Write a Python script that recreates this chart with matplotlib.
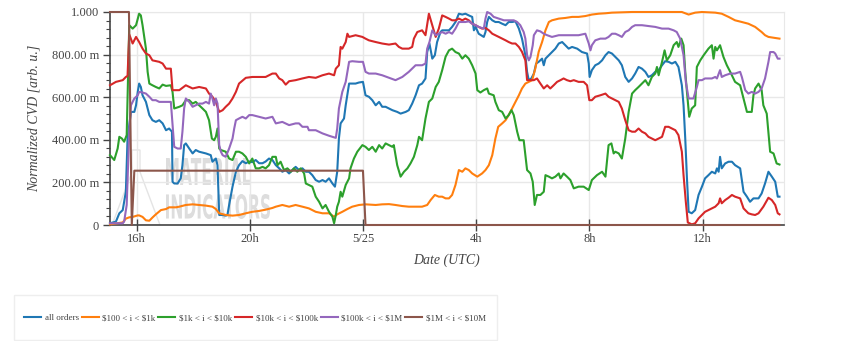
import matplotlib
matplotlib.use('Agg')
import matplotlib.pyplot as plt
from matplotlib.patches import PathPatch, Rectangle, Polygon
from matplotlib.textpath import TextPath
from matplotlib.transforms import Affine2D
from matplotlib.font_manager import FontProperties

plt.rcParams['font.family'] = ['Liberation Serif', 'DejaVu Serif']

# time axis: hours since 5/24 00:00 (UTC)
x_ticks = [16, 20, 24, 28, 32, 36]
x_tick_labels = ['16h', '20h', '5/25', '4h', '8h', '12h']
y_ticks = [0, 0.2, 0.4, 0.6, 0.8, 1.0]
y_tick_labels = ['0', '200.00 m', '400.00 m', '600.00 m', '800.00 m', '1.000']

series_names = ['all orders', r'\$100 < i < \$1k', r'\$1k < i < \$10k',
                r'\$10k < i < \$100k', r'\$100k < i < \$1M', r'\$1M < i < \$10M']
colors = ['#1f77b4', '#ff7f0e', '#2ca02c', '#d62728', '#9467bd', '#8c564b']

# all orders
blue_t = [15.06, 15.27, 15.39, 15.51, 15.56, 15.62, 15.68, 15.80, 15.92, 15.98, 16.04, 16.09, 16.15, 16.21,
          16.33, 16.45, 16.56, 16.68, 16.80, 16.92, 17.04, 17.15, 17.25, 17.27, 17.33, 17.45, 17.56, 17.62,
          17.68, 17.74, 17.86, 17.98, 18.09, 18.21, 18.45, 18.62, 18.68, 18.80, 18.86, 18.92, 19.04, 19.15,
          19.21, 19.27, 19.39, 19.51, 19.62, 19.74, 19.86, 19.98, 20.09, 20.21, 20.33, 20.45, 20.56, 20.68,
          20.80, 20.92, 21.04, 21.15, 21.27, 21.39, 21.51, 21.62, 21.74, 21.86, 21.98, 22.09, 22.21, 22.33,
          22.45, 22.57, 22.68, 22.80, 22.92, 23.01, 23.09, 23.15, 23.21, 23.33, 23.39, 23.51, 23.62, 23.74,
          23.86, 24.00, 24.09, 24.21, 24.33, 24.45, 24.57, 24.68, 24.80, 24.92, 25.04, 25.21, 25.33, 25.51,
          25.62, 25.74, 25.86, 25.98, 26.09, 26.21, 26.27, 26.35, 26.45, 26.54, 26.62, 26.74, 26.80, 26.92,
          27.04, 27.15, 27.27, 27.39, 27.51, 27.62, 27.74, 27.86, 27.92, 27.98, 28.09, 28.27, 28.33, 28.39,
          28.45, 28.57, 28.68, 28.80, 28.92, 29.04, 29.15, 29.27, 29.39, 29.51, 29.62, 29.74, 29.80, 29.86,
          29.95, 30.04, 30.12, 30.21, 30.33, 30.39, 30.45, 30.57, 30.68, 30.80, 30.92, 31.04, 31.15, 31.27,
          31.39, 31.57, 31.74, 31.92, 31.98, 32.01, 32.09, 32.21, 32.33, 32.45, 32.57, 32.68, 32.80, 32.92,
          33.04, 33.15, 33.27, 33.39, 33.51, 33.62, 33.74, 33.86, 33.98, 34.09, 34.21, 34.33, 34.45, 34.57,
          34.68, 34.80, 34.92, 35.04, 35.15, 35.27, 35.33, 35.39, 35.45, 35.51, 35.62, 35.74, 35.86, 35.98,
          36.09, 36.21, 36.33, 36.45, 36.51, 36.57, 36.62, 36.68, 36.80, 36.92, 37.04, 37.15, 37.33, 37.45,
          37.57, 37.68, 37.80, 37.98, 38.09, 38.21, 38.33, 38.45, 38.57, 38.66, 38.72]
blue_v = [0.008, 0.016, 0.055, 0.070, 0.109, 0.156, 0.406, 0.531, 0.531, 0.562, 0.625, 0.664, 0.648, 0.609,
          0.578, 0.516, 0.492, 0.484, 0.492, 0.477, 0.445, 0.453, 0.438, 0.203, 0.195, 0.195, 0.219, 0.281,
          0.375, 0.383, 0.359, 0.336, 0.352, 0.344, 0.336, 0.328, 0.297, 0.312, 0.281, 0.047, 0.047, 0.044,
          0.047, 0.094, 0.180, 0.250, 0.281, 0.300, 0.290, 0.298, 0.295, 0.305, 0.290, 0.290, 0.298, 0.312,
          0.305, 0.281, 0.266, 0.250, 0.258, 0.242, 0.258, 0.273, 0.258, 0.266, 0.250, 0.250, 0.234, 0.211,
          0.203, 0.211, 0.203, 0.219, 0.195, 0.180, 0.250, 0.406, 0.477, 0.500, 0.562, 0.664, 0.664, 0.664,
          0.669, 0.672, 0.609, 0.602, 0.586, 0.562, 0.578, 0.555, 0.555, 0.547, 0.539, 0.531, 0.523, 0.531,
          0.539, 0.570, 0.609, 0.656, 0.664, 0.688, 0.812, 0.852, 0.781, 0.797, 0.859, 0.906, 0.914, 0.914,
          0.914, 0.930, 0.953, 0.992, 0.988, 0.992, 0.984, 0.977, 0.914, 0.930, 0.898, 0.883, 0.906, 0.953,
          0.977, 0.961, 0.953, 0.953, 0.945, 0.938, 0.953, 0.953, 0.956, 0.922, 0.875, 0.797, 0.719, 0.680,
          0.688, 0.711, 0.758, 0.766, 0.781, 0.750, 0.781, 0.797, 0.812, 0.828, 0.852, 0.859, 0.844, 0.828,
          0.836, 0.828, 0.812, 0.805, 0.758, 0.695, 0.727, 0.750, 0.758, 0.773, 0.797, 0.812, 0.805, 0.789,
          0.773, 0.750, 0.695, 0.672, 0.688, 0.711, 0.742, 0.734, 0.719, 0.695, 0.703, 0.719, 0.727, 0.750,
          0.769, 0.766, 0.758, 0.766, 0.742, 0.656, 0.562, 0.406, 0.219, 0.062, 0.055, 0.070, 0.141, 0.180,
          0.219, 0.234, 0.250, 0.242, 0.266, 0.250, 0.320, 0.266, 0.289, 0.297, 0.297, 0.281, 0.266, 0.156,
          0.133, 0.109, 0.125, 0.125, 0.148, 0.195, 0.250, 0.227, 0.203, 0.133, 0.133]

# $100 < i < $1k
orange_t = [15.06, 15.51, 15.62, 15.74, 15.86, 16.04, 16.09, 16.21, 16.33, 16.45, 16.56, 16.68, 16.86, 17.04,
            17.15, 17.39, 17.51, 17.74, 17.98, 18.21, 18.45, 18.68, 18.80, 18.92, 19.15, 19.39, 19.62, 19.86,
            20.09, 20.33, 20.56, 20.80, 20.92, 21.15, 21.39, 21.62, 21.86, 22.09, 22.33, 22.57, 22.80, 22.98,
            23.09, 23.27, 23.45, 23.62, 23.86, 24.09, 24.45, 24.68, 24.92, 25.15, 25.39, 25.62, 25.86, 26.09,
            26.27, 26.39, 26.54, 26.68, 26.80, 26.92, 27.04, 27.15, 27.27, 27.39, 27.51, 27.62, 27.74, 27.86,
            28.04, 28.21, 28.33, 28.45, 28.57, 28.68, 28.78, 28.92, 29.04, 29.15, 29.27, 29.39, 29.51, 29.62,
            29.74, 29.86, 29.98, 30.09, 30.21, 30.33, 30.45, 30.57, 30.68, 30.92, 31.15, 31.39, 31.62, 31.86,
            32.09, 32.33, 32.57, 32.80, 33.51, 34.09, 34.68, 35.27, 35.51, 35.74, 35.98, 36.45, 36.68, 36.92,
            37.15, 37.39, 37.62, 37.86, 38.09, 38.21, 38.33, 38.57, 38.72]
orange_v = [0.003, 0.012, 0.030, 0.036, 0.038, 0.045, 0.045, 0.038, 0.022, 0.020, 0.035, 0.050, 0.070, 0.075,
            0.083, 0.083, 0.086, 0.094, 0.097, 0.094, 0.091, 0.086, 0.075, 0.055, 0.047, 0.044, 0.047, 0.055,
            0.062, 0.066, 0.072, 0.080, 0.086, 0.094, 0.086, 0.094, 0.086, 0.078, 0.062, 0.055, 0.055, 0.039,
            0.050, 0.062, 0.075, 0.086, 0.094, 0.097, 0.094, 0.097, 0.098, 0.094, 0.089, 0.086, 0.086, 0.086,
            0.094, 0.117, 0.141, 0.133, 0.133, 0.125, 0.125, 0.141, 0.188, 0.258, 0.250, 0.266, 0.258, 0.242,
            0.227, 0.242, 0.258, 0.281, 0.328, 0.406, 0.461, 0.477, 0.492, 0.516, 0.547, 0.578, 0.609, 0.641,
            0.664, 0.672, 0.680, 0.734, 0.813, 0.859, 0.914, 0.953, 0.961, 0.969, 0.972, 0.977, 0.977, 0.981,
            0.988, 0.992, 0.994, 0.997, 1.000, 1.000, 1.000, 1.000, 0.988, 0.997, 1.000, 0.997, 0.992, 0.977,
            0.961, 0.953, 0.945, 0.930, 0.906, 0.891, 0.883, 0.878, 0.875]

# $1k < i < $10k
green_t = [15.06, 15.21, 15.33, 15.39, 15.48, 15.56, 15.65, 15.74, 15.86, 15.98, 16.09, 16.15, 16.21, 16.33,
           16.39, 16.45, 16.56, 16.68, 16.80, 16.92, 17.04, 17.21, 17.27, 17.33, 17.51, 17.62, 17.74, 17.86,
           17.98, 18.09, 18.21, 18.33, 18.45, 18.56, 18.66, 18.74, 18.80, 18.86, 18.92, 18.98, 19.15, 19.27,
           19.39, 19.51, 19.62, 19.74, 19.86, 19.98, 20.09, 20.21, 20.33, 20.45, 20.56, 20.68, 20.80, 20.92,
           20.98, 21.09, 21.21, 21.33, 21.45, 21.56, 21.68, 21.80, 21.92, 21.98, 22.09, 22.21, 22.33, 22.45,
           22.57, 22.68, 22.80, 22.92, 22.98, 23.04, 23.09, 23.15, 23.21, 23.27, 23.39, 23.51, 23.56, 23.68,
           23.80, 23.98, 24.09, 24.21, 24.33, 24.45, 24.57, 24.68, 24.80, 24.92, 25.04, 25.09, 25.15, 25.21,
           25.33, 25.45, 25.57, 25.68, 25.80, 25.92, 25.98, 26.09, 26.21, 26.33, 26.45, 26.57, 26.68, 26.80,
           26.92, 27.04, 27.15, 27.27, 27.39, 27.51, 27.62, 27.74, 27.86, 27.98, 28.04, 28.15, 28.27, 28.39,
           28.45, 28.62, 28.68, 28.80, 28.92, 29.04, 29.15, 29.25, 29.33, 29.45, 29.53, 29.68, 29.74, 29.80,
           29.92, 30.00, 30.07, 30.15, 30.27, 30.39, 30.45, 30.57, 30.68, 30.80, 30.92, 30.98, 31.09, 31.21,
           31.33, 31.45, 31.62, 31.80, 31.98, 32.09, 32.27, 32.45, 32.57, 32.68, 32.78, 32.86, 32.92, 33.04,
           33.15, 33.27, 33.39, 33.51, 33.62, 33.74, 33.86, 33.98, 34.09, 34.21, 34.33, 34.39, 34.45, 34.57,
           34.66, 34.74, 34.86, 34.98, 35.09, 35.15, 35.25, 35.33, 35.39, 35.45, 35.53, 35.62, 35.74, 35.80,
           35.92, 36.04, 36.21, 36.33, 36.39, 36.45, 36.51, 36.62, 36.74, 36.86, 36.98, 37.15, 37.33, 37.45,
           37.57, 37.74, 37.80, 37.86, 37.98, 38.09, 38.15, 38.27, 38.39, 38.51, 38.62, 38.72]
green_v = [0.328, 0.305, 0.359, 0.414, 0.406, 0.391, 0.422, 0.938, 0.922, 0.938, 0.992, 0.984, 0.938, 0.828,
           0.719, 0.664, 0.656, 0.648, 0.641, 0.659, 0.653, 0.656, 0.625, 0.547, 0.555, 0.562, 0.586, 0.586,
           0.570, 0.578, 0.562, 0.547, 0.531, 0.492, 0.406, 0.398, 0.414, 0.453, 0.359, 0.352, 0.344, 0.312,
           0.305, 0.344, 0.344, 0.336, 0.320, 0.289, 0.312, 0.266, 0.266, 0.273, 0.266, 0.281, 0.320, 0.320,
           0.281, 0.297, 0.258, 0.266, 0.250, 0.266, 0.250, 0.266, 0.242, 0.195, 0.188, 0.180, 0.133, 0.109,
           0.078, 0.094, 0.062, 0.039, 0.008, 0.047, 0.086, 0.109, 0.156, 0.133, 0.188, 0.219, 0.266, 0.312,
           0.344, 0.375, 0.367, 0.352, 0.367, 0.344, 0.375, 0.359, 0.383, 0.375, 0.367, 0.375, 0.328, 0.281,
           0.227, 0.250, 0.266, 0.289, 0.320, 0.375, 0.414, 0.398, 0.500, 0.578, 0.594, 0.648, 0.672, 0.727,
           0.790, 0.820, 0.828, 0.812, 0.805, 0.781, 0.797, 0.781, 0.750, 0.711, 0.633, 0.622, 0.633, 0.641,
           0.617, 0.609, 0.578, 0.539, 0.531, 0.500, 0.516, 0.539, 0.516, 0.438, 0.398, 0.398, 0.328, 0.258,
           0.242, 0.203, 0.094, 0.141, 0.141, 0.156, 0.234, 0.227, 0.219, 0.227, 0.242, 0.219, 0.242, 0.227,
           0.211, 0.172, 0.180, 0.180, 0.164, 0.211, 0.234, 0.250, 0.227, 0.375, 0.383, 0.336, 0.344, 0.336,
           0.312, 0.406, 0.531, 0.617, 0.633, 0.648, 0.664, 0.680, 0.656, 0.695, 0.711, 0.742, 0.703, 0.766,
           0.820, 0.773, 0.797, 0.844, 0.859, 0.836, 0.875, 0.844, 0.719, 0.625, 0.508, 0.547, 0.562, 0.742,
           0.773, 0.797, 0.828, 0.844, 0.781, 0.836, 0.820, 0.844, 0.789, 0.750, 0.719, 0.672, 0.656, 0.594,
           0.531, 0.531, 0.609, 0.641, 0.664, 0.633, 0.562, 0.523, 0.344, 0.336, 0.289, 0.284]

# $10k < i < $100k
red_t = [15.06, 15.27, 15.51, 15.62, 15.68, 15.74, 15.86, 15.98, 16.09, 16.21, 16.33, 16.45, 16.56, 16.80,
         16.92, 17.04, 17.21, 17.27, 17.51, 17.74, 17.98, 18.21, 18.45, 18.56, 18.68, 18.80, 18.92, 19.04,
         19.15, 19.27, 19.39, 19.51, 19.62, 19.86, 20.09, 20.33, 20.56, 20.80, 20.92, 21.04, 21.15, 21.27,
         21.39, 21.62, 21.86, 22.09, 22.33, 22.57, 22.80, 22.98, 23.04, 23.15, 23.21, 23.27, 23.39, 23.45,
         23.51, 23.74, 23.98, 24.09, 24.21, 24.45, 24.68, 24.92, 25.15, 25.27, 25.39, 25.62, 25.74, 25.80,
         25.92, 26.09, 26.21, 26.33, 26.45, 26.57, 26.68, 26.80, 26.92, 27.04, 27.15, 27.27, 27.39, 27.51,
         27.62, 27.74, 27.86, 27.98, 28.09, 28.21, 28.33, 28.45, 28.57, 28.68, 28.80, 28.92, 29.04, 29.15,
         29.27, 29.39, 29.51, 29.62, 29.74, 29.80, 29.92, 30.04, 30.15, 30.27, 30.39, 30.51, 30.62, 30.74,
         30.86, 30.98, 31.09, 31.21, 31.33, 31.45, 31.62, 31.80, 31.92, 32.00, 32.09, 32.21, 32.39, 32.57,
         32.68, 32.80, 32.92, 33.04, 33.15, 33.27, 33.39, 33.51, 33.62, 33.74, 33.86, 33.98, 34.09, 34.21,
         34.33, 34.45, 34.57, 34.68, 34.80, 34.92, 35.04, 35.15, 35.27, 35.33, 35.41, 35.48, 35.62, 35.74,
         35.86, 35.98, 36.09, 36.21, 36.33, 36.45, 36.57, 36.62, 36.68, 36.80, 36.92, 37.04, 37.15, 37.33,
         37.45, 37.62, 37.74, 37.86, 37.98, 38.15, 38.33, 38.45, 38.57, 38.66, 38.72]
red_v = [0.656, 0.672, 0.680, 0.695, 0.700, 0.895, 0.852, 0.883, 0.859, 0.828, 0.805, 0.797, 0.773, 0.766,
         0.758, 0.734, 0.734, 0.633, 0.633, 0.656, 0.641, 0.648, 0.641, 0.617, 0.602, 0.578, 0.531, 0.539,
         0.555, 0.570, 0.594, 0.625, 0.664, 0.691, 0.695, 0.695, 0.695, 0.711, 0.711, 0.688, 0.680, 0.659,
         0.675, 0.680, 0.688, 0.695, 0.691, 0.703, 0.711, 0.703, 0.734, 0.750, 0.836, 0.828, 0.859, 0.898,
         0.883, 0.891, 0.883, 0.875, 0.867, 0.859, 0.852, 0.847, 0.852, 0.836, 0.828, 0.828, 0.836, 0.875,
         0.906, 0.914, 0.891, 0.992, 0.938, 0.883, 0.922, 0.984, 0.977, 0.969, 0.961, 0.961, 0.969, 0.961,
         0.969, 0.961, 0.945, 0.938, 0.930, 0.922, 0.925, 0.914, 0.898, 0.891, 0.883, 0.875, 0.867, 0.859,
         0.852, 0.852, 0.836, 0.813, 0.773, 0.680, 0.680, 0.680, 0.688, 0.664, 0.641, 0.656, 0.641, 0.656,
         0.672, 0.680, 0.688, 0.680, 0.675, 0.680, 0.672, 0.672, 0.656, 0.586, 0.586, 0.602, 0.609, 0.617,
         0.602, 0.594, 0.586, 0.578, 0.547, 0.492, 0.445, 0.438, 0.438, 0.453, 0.438, 0.430, 0.414, 0.406,
         0.398, 0.406, 0.414, 0.461, 0.461, 0.453, 0.445, 0.422, 0.344, 0.234, 0.109, 0.012, 0.003, 0.008,
         0.031, 0.047, 0.062, 0.070, 0.078, 0.086, 0.102, 0.125, 0.102, 0.117, 0.128, 0.141, 0.133, 0.125,
         0.078, 0.055, 0.050, 0.047, 0.055, 0.086, 0.128, 0.117, 0.094, 0.055, 0.050]

# $100k < i < $1M
purple_t = [15.06, 15.51, 15.56, 15.65, 15.74, 15.80, 15.92, 16.04, 16.09, 16.21, 16.33, 16.45, 16.56, 16.68,
            16.80, 17.04, 17.21, 17.27, 17.33, 17.45, 17.56, 17.62, 17.68, 17.74, 17.86, 17.98, 18.09, 18.21,
            18.33, 18.45, 18.56, 18.62, 18.68, 18.74, 18.80, 18.86, 18.92, 18.98, 19.04, 19.15, 19.27, 19.39,
            19.45, 19.51, 19.62, 19.74, 19.86, 19.98, 20.09, 20.33, 20.56, 20.80, 20.92, 21.15, 21.39, 21.62,
            21.74, 21.86, 22.04, 22.09, 22.33, 22.57, 22.80, 23.04, 23.09, 23.15, 23.27, 23.39, 23.51, 23.62,
            23.86, 24.00, 24.09, 24.21, 24.45, 24.68, 24.92, 25.15, 25.39, 25.62, 25.86, 26.09, 26.21, 26.27,
            26.35, 26.45, 26.57, 26.68, 26.80, 26.92, 27.04, 27.15, 27.27, 27.39, 27.51, 27.62, 27.74, 27.86,
            27.98, 28.09, 28.27, 28.33, 28.39, 28.51, 28.62, 28.80, 28.98, 29.15, 29.33, 29.45, 29.56, 29.68,
            29.74, 29.80, 29.86, 29.92, 30.00, 30.04, 30.15, 30.27, 30.39, 30.51, 30.68, 30.92, 31.15, 31.39,
            31.62, 31.86, 31.98, 32.04, 32.09, 32.21, 32.39, 32.57, 32.68, 32.80, 32.92, 33.04, 33.15, 33.27,
            33.39, 33.51, 33.62, 33.86, 34.09, 34.33, 34.57, 34.80, 34.98, 35.09, 35.21, 35.33, 35.41, 35.51,
            35.68, 35.80, 35.86, 35.98, 36.09, 36.33, 36.45, 36.51, 36.62, 36.68, 36.80, 36.98, 37.15, 37.33,
            37.39, 37.51, 37.62, 37.74, 37.86, 37.98, 38.09, 38.21, 38.33, 38.39, 38.51, 38.57, 38.66, 38.72]
purple_v = [0.008, 0.008, 0.016, 0.094, 0.438, 0.562, 0.594, 0.609, 0.625, 0.622, 0.617, 0.602, 0.586, 0.586,
            0.578, 0.578, 0.578, 0.469, 0.367, 0.359, 0.359, 0.438, 0.547, 0.594, 0.578, 0.555, 0.562, 0.570,
            0.570, 0.578, 0.570, 0.617, 0.594, 0.562, 0.594, 0.570, 0.375, 0.344, 0.328, 0.320, 0.359, 0.406,
            0.453, 0.492, 0.500, 0.508, 0.500, 0.516, 0.516, 0.508, 0.500, 0.508, 0.477, 0.484, 0.469, 0.477,
            0.477, 0.461, 0.461, 0.445, 0.445, 0.430, 0.419, 0.409, 0.453, 0.547, 0.625, 0.672, 0.766, 0.769,
            0.766, 0.766, 0.719, 0.711, 0.711, 0.703, 0.691, 0.680, 0.695, 0.719, 0.750, 0.750, 0.758, 0.828,
            0.859, 0.914, 0.891, 0.898, 0.906, 0.898, 0.906, 0.898, 0.922, 0.953, 0.953, 0.953, 0.956, 0.945,
            0.938, 0.930, 0.922, 0.969, 1.000, 0.992, 0.977, 0.969, 0.961, 0.961, 0.961, 0.953, 0.938, 0.906,
            0.875, 0.797, 0.773, 0.789, 0.844, 0.891, 0.914, 0.909, 0.898, 0.891, 0.883, 0.891, 0.891, 0.891,
            0.891, 0.898, 0.852, 0.820, 0.844, 0.867, 0.875, 0.875, 0.883, 0.898, 0.898, 0.891, 0.883, 0.906,
            0.914, 0.930, 0.938, 0.938, 0.934, 0.930, 0.922, 0.922, 0.914, 0.906, 0.875, 0.797, 0.672, 0.594,
            0.594, 0.648, 0.680, 0.680, 0.688, 0.688, 0.695, 0.688, 0.727, 0.695, 0.703, 0.711, 0.711, 0.719,
            0.695, 0.633, 0.617, 0.625, 0.617, 0.625, 0.641, 0.688, 0.766, 0.812, 0.812, 0.805, 0.781, 0.781]

# $1M < i < $10M
brown_t = [15.06, 15.73, 15.83, 15.92, 24.00, 24.09, 38.72]
brown_v = [1.0, 1.0, 0.0, 0.255, 0.255, 0.0, 0.0]

all_t = [blue_t, orange_t, green_t, red_t, purple_t, brown_t]
all_v = [blue_v, orange_v, green_v, red_v, purple_v, brown_v]

fig = plt.figure(figsize=(8.59, 3.41), dpi=100)
ax = fig.add_axes([110 / 859, 1 - 225 / 341, 674 / 859, 213 / 341])

# faint watermark behind the data (flask outline + two words)
flask = [(132, 150), (140, 150), (140, 172), (160, 225), (112, 225), (132, 172)]
ax.add_patch(Polygon([(px / 859, 1 - py / 341) for px, py in flask], closed=True, fill=False,
                     edgecolor='#e4e4e4', lw=1, transform=fig.transFigure, zorder=0.5))
wm_font = FontProperties(family='DejaVu Sans', weight='bold')
for word, (x0, y0, x1, y1) in [('MATERIAL', (166, 158, 251, 185)), ('INDICATORS', (166, 194, 270, 219))]:
    tp = TextPath((0, 0), word, size=10, prop=wm_font)
    ext = tp.get_extents()
    tr = (Affine2D().translate(-ext.x0, -ext.y0)
          .scale((x1 - x0) / ext.width / 859, (y1 - y0) / ext.height / 341)
          .translate(x0 / 859, 1 - y1 / 341) + fig.transFigure)
    ax.add_patch(PathPatch(tp, transform=tr, facecolor='#dddddd', edgecolor='none', zorder=0.5))

lines = []
for t, v, c, name in zip(all_t, all_v, colors, series_names):
    ln, = ax.plot(t, v, color=c, lw=1.5, label=name, clip_on=False, zorder=3)
    lines.append(ln)

ax.set_xlim(15.06, 38.88)
ax.set_ylim(0, 1)
ax.set_xticks(x_ticks)
ax.set_xticklabels(x_tick_labels)
ax.set_yticks(y_ticks)
ax.set_yticklabels(y_tick_labels)
ax.set_yticks([i * 0.04 for i in range(26)], minor=True)
ax.tick_params(axis='x', direction='inout', length=8, width=1, color='#444444',
               labelsize=9, labelcolor='#444444', pad=2)
ax.tick_params(axis='y', which='major', direction='out', length=5, width=1, color='#444444',
               labelsize=9, labelcolor='#444444', pad=3)
ax.tick_params(axis='y', which='minor', direction='out', length=3, width=0.8, color='#444444')
ax.grid(True, which='major', color='#e8e8e8', lw=1, zorder=0)
ax.set_axisbelow(True)
for side in ['left', 'bottom']:
    ax.spines[side].set_color('#444444')
    ax.spines[side].set_linewidth(1.2)
for side in ['top', 'right']:
    ax.spines[side].set_color('#e8e8e8')

ax.set_ylabel('Normalized CVD [arb. u.]', fontsize=10, style='italic', color='#444444', labelpad=8)
ax.set_xlabel('Date (UTC)', fontsize=10, style='italic', color='#444444', labelpad=6)

# legend box below the plot
fig.patches.append(Rectangle((14 / 859, 1 - 340 / 341), 483 / 859, 45 / 341, transform=fig.transFigure,
                             facecolor='white', edgecolor='#eeeeee', lw=1))
fig.legend(handles=lines, loc='center', bbox_to_anchor=(255 / 859, 1 - 318 / 341), ncol=6,
           frameon=False, fontsize=6.5, handlelength=1.9, handletextpad=0.4, columnspacing=0.3,
           labelcolor='#444444')

fig.savefig('out.png', dpi=100)
